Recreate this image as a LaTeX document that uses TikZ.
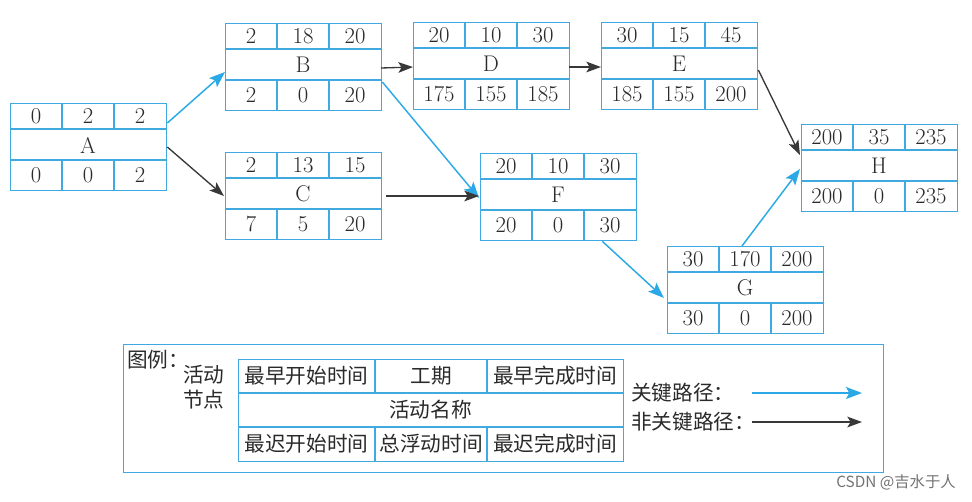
\documentclass[tikz,border=0pt]{standalone}
\usepackage{fontspec}
\newfontfamily\cjk{Noto Sans CJK SC}
\newfontfamily\wmfont{Noto Sans CJK SC}
\usetikzlibrary{arrows.meta,calc}
\definecolor{boxblue}{HTML}{3FA9E0}
\definecolor{critblue}{HTML}{2BA9E6}
\definecolor{darkline}{HTML}{383838}
\definecolor{txt}{HTML}{2A2A2A}
\tikzset{
  actbox/.style={draw=boxblue, line width=1pt, minimum width=156*0.75pt, minimum height=87*0.75pt, inner sep=0pt, anchor=north west},
  boxline/.style={draw=boxblue, line width=1pt},
  numtxt/.style={text=txt, font=\rmfamily\fontsize{17}{19}\selectfont, inner sep=0pt},
  crit/.style={draw=critblue, line width=1.1pt, -{Stealth[length=12pt,width=9pt,inset=2.5pt]}},
  noncrit/.style={draw=darkline, line width=1pt, -{Stealth[length=11pt,width=8pt,inset=2.5pt]}},
  legtxt/.style={text=txt, font=\cjk\fontsize{15.5}{17}\selectfont, inner sep=0pt},
}
\newcommand\actnode[9]{%
  \node[actbox] (#1) at #2 {};
  \draw[boxline] ($(#1.north west)+(0,26)$) -- ($(#1.north east)+(0,26)$);
  \draw[boxline] ($(#1.north west)+(0,57)$) -- ($(#1.north east)+(0,57)$);
  \draw[boxline] ($(#1.north west)+(52,0)$) -- ($(#1.north west)+(52,26)$);
  \draw[boxline] ($(#1.north west)+(104,0)$) -- ($(#1.north west)+(104,26)$);
  \draw[boxline] ($(#1.north west)+(52,57)$) -- ($(#1.north west)+(52,87)$);
  \draw[boxline] ($(#1.north west)+(104,57)$) -- ($(#1.north west)+(104,87)$);
  \node[numtxt] (#1-es) at ($(#1.north west)+(26,13.5)$) {#3};
  \node[numtxt] (#1-d) at ($(#1.north west)+(78,13.5)$) {#4};
  \node[numtxt] (#1-ef) at ($(#1.north west)+(130,13.5)$) {#5};
  \node[numtxt] (#1-name) at ($(#1.north west)+(78,42)$) {#1};
  \node[numtxt] (#1-ls) at ($(#1.north west)+(26,72.5)$) {#6};
  \node[numtxt] (#1-tf) at ($(#1.north west)+(78,72.5)$) {#7};
  \node[numtxt] (#1-lf) at ($(#1.north west)+(130,72.5)$) {#8};
}
\begin{document}
\begin{tikzpicture}[x=0.75pt, y=-0.75pt]
\useasboundingbox (0,0) rectangle (972,501);
\fill[white] (0,0) rectangle (972,501);

\actnode{A}{(10,103)}{0}{2}{2}{0}{0}{2}{}
\actnode{B}{(225,23)}{2}{18}{20}{2}{0}{20}{}
\actnode{C}{(225,152)}{2}{13}{15}{7}{5}{20}{}
\actnode{D}{(413,22)}{20}{10}{30}{175}{155}{185}{}
\actnode{E}{(601,22)}{30}{15}{45}{185}{155}{200}{}
\actnode{F}{(480,153)}{20}{10}{30}{20}{0}{30}{}
\actnode{G}{(667,246)}{30}{170}{200}{30}{0}{200}{}
\actnode{H}{(801,124)}{200}{35}{235}{200}{0}{235}{}

% connectors
\draw[crit] ($(A.north east)+(0,20)$) -- ($(B.north west)+(0,49)$);
\draw[noncrit] ($(A.north east)+(0,44)$) -- ($(C.north west)+(-1,44)$);
\draw[noncrit] ($(B.north west)+(156,45)$) -- ($(D.north west)+(0,45)$);
\draw[noncrit] ($(D.north west)+(156,45)$) -- ($(E.north west)+(0,45)$);
\draw[crit] ($(B.north east)+(0,59)$) -- ($(F.north west)+(-1,45)$);
\draw[noncrit] ($(C.north east)+(4,44)$) -- ($(F.north west)+(-1,43)$);
\draw[crit] ($(F.south east)+(-35,0)$) -- ($(G.north west)+(-3,52)$);
\draw[noncrit] ($(E.north east)+(0,48)$) -- ($(H.north west)+(-1,31)$);
\draw[crit] ($(G.north west)+(75,0)$) -- ($(H.north west)+(-1,45)$);

% legend
\node[draw=boxblue, line width=0.8pt, minimum width=760*0.75pt, minimum height=128*0.75pt, anchor=north west, inner sep=0pt] (leg) at (123,344) {};
\node[draw=boxblue, line width=0.8pt, minimum width=385*0.75pt, minimum height=102*0.75pt, anchor=north west, inner sep=0pt] (lt) at (238,359) {};
\draw[boxline, line width=0.8pt] ($(lt.north west)+(0,34)$) -- ($(lt.north east)+(0,34)$);
\draw[boxline, line width=0.8pt] ($(lt.north west)+(0,68)$) -- ($(lt.north east)+(0,68)$);
\draw[boxline, line width=0.8pt] ($(lt.north west)+(137,0)$) -- ($(lt.north west)+(137,34)$);
\draw[boxline, line width=0.8pt] ($(lt.north west)+(249,0)$) -- ($(lt.north west)+(249,34)$);
\draw[boxline, line width=0.8pt] ($(lt.north west)+(137,68)$) -- ($(lt.north west)+(137,102)$);
\draw[boxline, line width=0.8pt] ($(lt.north west)+(249,68)$) -- ($(lt.north west)+(249,102)$);
\node[legtxt] (l1) at ($(lt.north west)+(68.5,17)$) {最早开始时间};
\node[legtxt] (l2) at ($(lt.north west)+(193,17)$) {工期};
\node[legtxt] (l3) at ($(lt.north west)+(317,17)$) {最早完成时间};
\node[legtxt] (l4) at ($(lt.north west)+(192.5,51)$) {活动名称};
\node[legtxt] (l5) at ($(lt.north west)+(68.5,85)$) {最迟开始时间};
\node[legtxt] (l6) at ($(lt.north west)+(193,85)$) {总浮动时间};
\node[legtxt] (l7) at ($(lt.north west)+(317,85)$) {最迟完成时间};
\node[legtxt, anchor=west] (tuli) at (127,360) {图例：};
\node[legtxt, anchor=west] (hd) at (183,375) {活动};
\node[legtxt, anchor=west] (jd) at (183,400) {节点};
\node[legtxt, anchor=west] (gj) at (631,393) {关键路径：};
\node[legtxt, anchor=west] (fgj) at (631,422) {非关键路径：};
\coordinate (c1s) at (752,393);
\coordinate (c1e) at (862,393);
\coordinate (c2s) at (752,422);
\coordinate (c2e) at (862,422);
\draw[crit] (c1s) -- (c1e);
\draw[noncrit] (c2s) -- (c2e);

% watermark
\node[text=black!55, font=\wmfont\fontsize{11.5}{13}\selectfont, anchor=east, inner sep=0pt] (wm) at (956,482) {CSDN @吉水于人};
\end{tikzpicture}
\end{document}
